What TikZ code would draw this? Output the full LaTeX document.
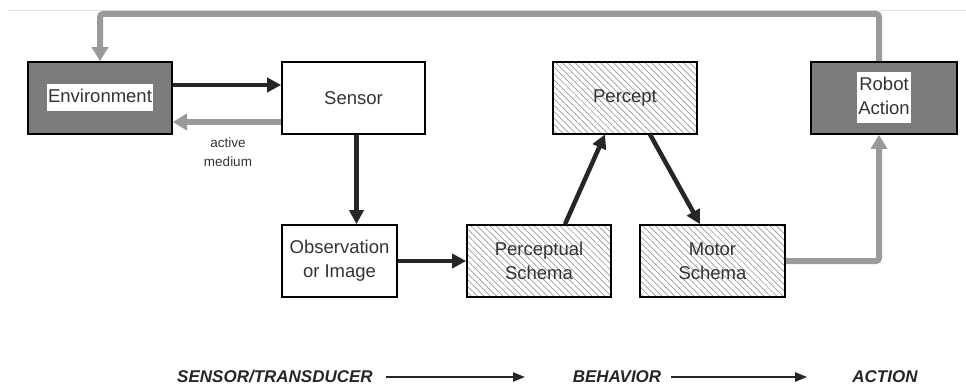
\documentclass[tikz,border=0pt]{standalone}
\usepackage{fontspec}
\setmainfont{Liberation Sans}
\usetikzlibrary{arrows.meta,patterns.meta,positioning}
\definecolor{boxgray}{HTML}{7C7C7C}
\definecolor{linegray}{HTML}{9A9A9A}
\definecolor{txtgray}{HTML}{333333}
\newcommand{\wbg}[1]{{\setlength{\fboxsep}{1.5pt}\colorbox{white}{\begin{tabular}{@{}c@{}}#1\end{tabular}}}}
\tikzset{
  blk/.style={draw=black,line width=1.6pt,minimum height=72pt,inner sep=0pt,
    font=\fontsize{18.5}{24}\selectfont,text=txtgray,align=center},
  darkbox/.style={blk,fill=boxgray},
  hatchbox/.style={blk,pattern={Lines[angle=-45,distance=4.5pt,line width=0.7pt]},pattern color=gray!80},
  blackarr/.style={line width=4.5pt,draw=black!85,-{Triangle[length=14pt,width=14pt]}},
  grayarr/.style={line width=6pt,draw=linegray,-{Triangle[length=14pt,width=16pt]}},
  bottomlbl/.style={font=\fontsize{17}{20}\selectfont\bfseries\itshape,inner sep=0pt,text=black!85},
  thinarr/.style={line width=2.2pt,draw=black!85,-{Triangle[length=12pt,width=9pt]}}
}
\begin{document}
\begin{tikzpicture}[x=1pt,y=-1pt]
\useasboundingbox (0,0) rectangle (966,385);
\draw[gray!25,line width=0.8pt] (8,10) -- (966,10);
% nodes
\node[darkbox,minimum width=144pt] (env) at (100,98) {\wbg{Environment}};
\node[blk,minimum width=143pt] (sensor) at (353.5,98) {Sensor};
\node[hatchbox,minimum width=144pt] (percept) at (625,98) {Percept};
\node[darkbox,minimum width=146pt] (robot) at (884,98) {\wbg{Robot\\Action}};
\node[blk,minimum width=115pt] (obs) at (339.5,261) {Observation\\or Image};
\node[hatchbox,minimum width=144pt] (perc) at (539,261) {Perceptual\\Schema};
\node[hatchbox,minimum width=145pt] (motor) at (712.5,261) {Motor\\Schema};
\node[font=\fontsize{13.5}{19}\selectfont,text=txtgray,align=center] (am) at (228,152) {active\\medium};
% connectors
\coordinate (top) at (0,14);
\draw[grayarr,rounded corners=3pt] ([xshift=-5pt]robot.north) -- ([xshift=-5pt]robot.north |- top) -| (env.north);
\draw[blackarr] ([yshift=13pt]env.east) -- ([yshift=13pt]sensor.west);
\draw[grayarr] ([yshift=-24pt]sensor.west) -- ([yshift=-24pt]env.east);
\draw[blackarr] ([xshift=3pt]sensor.south) -- ([xshift=3pt]sensor.south |- obs.north);
\draw[blackarr] (obs.east) -- (perc.west);
\draw[blackarr] ([xshift=26pt]perc.north) -- ([xshift=-20pt]percept.south);
\draw[blackarr] ([xshift=25pt]percept.south) -- ([xshift=-12.5pt]motor.north);
\draw[grayarr,rounded corners=3pt] (motor.east) -| ([xshift=-5pt]robot.south);
% bottom legend
\node[bottomlbl] (s) at (275,377) {SENSOR/TRANSDUCER};
\node[bottomlbl] (b) at (617,377) {BEHAVIOR};
\node[bottomlbl] (a) at (885,377) {ACTION};
\draw[thinarr] (386,377) -- (525,377);
\draw[thinarr] ([xshift=10pt]b.east) -- ([xshift=-45pt]a.west);
\end{tikzpicture}
\end{document}
